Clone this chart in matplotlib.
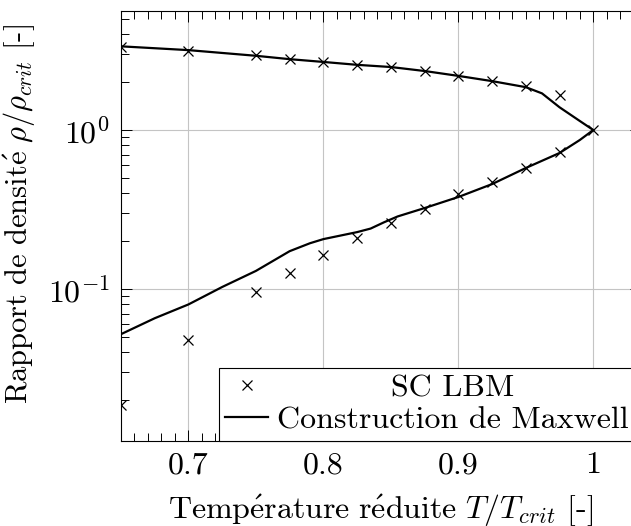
import matplotlib
matplotlib.use('Agg')
import matplotlib.pyplot as plt
from matplotlib.ticker import MultipleLocator, FuncFormatter

plt.rcParams['font.family'] = 'cmr10'
plt.rcParams['mathtext.fontset'] = 'cm'
plt.rcParams['axes.formatter.use_mathtext'] = True
plt.rcParams['axes.unicode_minus'] = False
plt.rcParams['font.size'] = 23

# donnees SC LBM (branche vapeur + branche liquide)
t_lbm = [0.65, 0.7, 0.75, 0.775, 0.8, 0.825, 0.85, 0.875, 0.9, 0.925, 0.95, 0.975, 1.0,
         0.975, 0.95, 0.925, 0.9, 0.875, 0.85, 0.825, 0.8, 0.775, 0.75, 0.7, 0.65]
rho_lbm = [3.33, 3.14, 2.96, 2.80, 2.68, 2.56, 2.49, 2.35, 2.19, 2.03, 1.89, 1.66, 1.0,
           0.727, 0.577, 0.471, 0.396, 0.318, 0.260, 0.209, 0.164, 0.126, 0.0957, 0.0478, 0.0186]

# construction de Maxwell
t_max = [0.65, 0.7, 0.75, 0.775, 0.8, 0.825, 0.85, 0.875, 0.9, 0.925, 0.95, 0.962, 0.975, 0.99, 1.0,
         0.99, 0.975, 0.95, 0.925, 0.9, 0.875, 0.855, 0.845, 0.835, 0.825, 0.8, 0.79, 0.775, 0.75,
         0.725, 0.7, 0.675, 0.65]
rho_max = [3.36, 3.18, 2.93, 2.79, 2.68, 2.57, 2.49, 2.35, 2.19, 2.03, 1.86, 1.70, 1.39, 1.14, 1.0,
           0.865, 0.717, 0.577, 0.457, 0.379, 0.323, 0.286, 0.263, 0.240, 0.228, 0.206, 0.194, 0.173,
           0.130, 0.103, 0.080, 0.0655, 0.052]

fig = plt.figure(figsize=(6.31, 5.26), dpi=100)
ax = fig.add_axes([121 / 631, 1 - 440.5 / 526, 519.5 / 631, 430 / 526])

ax.plot(t_lbm, rho_lbm, 'x', color='black', ms=7, mew=0.9, label='SC LBM')
ax.plot(t_max, rho_max, '-', color='black', lw=1.6, label='Construction de Maxwell')

ax.set_yscale('log')
ax.set_xlim(0.65, 1.035)
ax.set_ylim(0.01115, 5.645)
ax.xaxis.set_major_locator(MultipleLocator(0.1))
ax.xaxis.set_minor_locator(MultipleLocator(0.01))
ax.xaxis.set_major_formatter(FuncFormatter(lambda v, p: '%g' % round(v, 2)))

ax.grid(True, which='major', color='#c4c4c4', lw=0.8)
ax.set_axisbelow(True)
ax.tick_params(which='both', direction='in', top=True, right=True, width=0.7)
ax.tick_params(which='major', length=8, pad=8)
ax.tick_params(which='minor', length=5.5)
for s in ax.spines.values():
    s.set_linewidth(0.8)

ax.set_xlabel(r'$\mathrm{Temp\acute{e}rature\ r\acute{e}duite}\ T/T_{crit}$ [-]', labelpad=9)
ax.set_ylabel(r'$\mathrm{Rapport\ de\ densit\acute{e}}\ \rho/\rho_{crit}$ [-]', labelpad=8, fontsize=22)
ax.yaxis.label.set_y((440.5 - 214) / 430)

leg = ax.legend(loc='lower right', bbox_to_anchor=(634 / 640.5, 0), borderaxespad=0,
                fancybox=False, framealpha=1, edgecolor='black', handlelength=1.35,
                handletextpad=0.28, labelspacing=0.1, borderpad=0.2)
leg.get_frame().set_linewidth(0.8)

# centrer les textes de la legende
fig.canvas.draw()
renderer = fig.canvas.get_renderer()
textes = leg.get_texts()
larg = [t.get_window_extent(renderer).width for t in textes]
for t, w in zip(textes, larg):
    t.set_position(((max(larg) - w) / 2, 0))

fig.savefig('out.png', dpi=100)
